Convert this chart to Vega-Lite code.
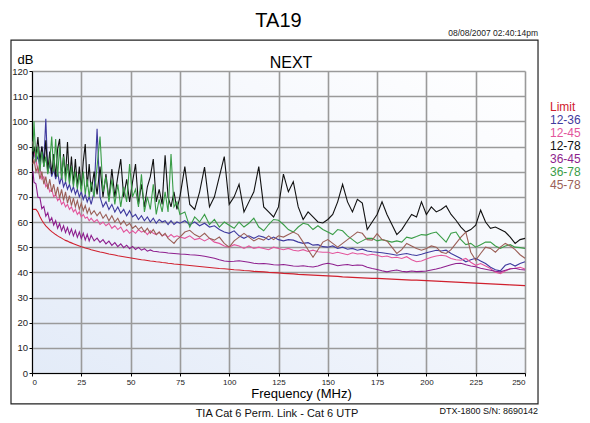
{
  "$schema": "https://vega.github.io/schema/vega-lite/v6.json",
  "width": 493,
  "height": 302,
  "autosize": {"type": "none"},
  "padding": {"left": 32, "top": 71, "right": 65, "bottom": 50},
  "background": "#ffffff",
  "title": {"text": "TA19", "fontSize": 20, "fontWeight": "normal", "color": "#000000", "anchor": "middle", "baseline": "alphabetic", "offset": 4, "dy": 22},
  "config": {
    "font": "Liberation Sans",
    "view": {"stroke": null, "fill": {"gradient": "linear", "x1": 0, "y1": 1, "x2": 1, "y2": 0, "stops": [{"offset": 0, "color": "#e3ebf8"}, {"offset": 0.55, "color": "#f3f6fc"}, {"offset": 1, "color": "#ffffff"}]}},
    "axis": {"labelColor": "#222222", "tickColor": "#000000", "domainColor": "#000000", "gridColor": "#9a9a9a", "gridWidth": 1.6, "titleFontWeight": "normal", "titleColor": "#000000"}
  },
  "resolve": {"axis": {"x": "independent", "y": "independent"}},
  "layer": [
    {
      "data": {"values": [{}]},
      "mark": {"type": "rect", "filled": false, "stroke": "#222222", "strokeWidth": 1.2},
      "encoding": {
        "x": {"datum": -10.65, "type": "quantitative", "scale": {"domain": [0, 250], "nice": false},
              "axis": {"orient": "top", "title": "NEXT", "labels": false, "ticks": false, "domain": false, "grid": false, "titleFontSize": 16, "titleX": 258.5, "titleY": -4, "titleBaseline": "alphabetic", "titleAlign": "center"}},
        "x2": {"datum": 256.6},
        "y": {"datum": 132.3, "type": "quantitative", "scale": {"domain": [0, 120], "nice": false}, "axis": null},
        "y2": {"datum": -12.3}
      }
    },
    {
      "data": {"values": [{}]},
      "mark": {"type": "text", "align": "right", "baseline": "middle", "fontSize": 8.5, "color": "#222222"},
      "encoding": {
        "x": {"datum": 256.6, "type": "quantitative", "scale": {"domain": [0, 250], "nice": false}, "axis": null},
        "y": {"datum": 135.1, "type": "quantitative", "scale": {"domain": [0, 120], "nice": false}, "axis": null},
        "text": {"value": "08/08/2007 02:40:14pm"}
      }
    },
    {
      "data": {"values": [{}]},
      "mark": {"type": "text", "align": "center", "baseline": "middle", "fontSize": 11, "color": "#111111"},
      "encoding": {
        "x": {"datum": 124.2, "type": "quantitative", "scale": {"domain": [0, 250], "nice": false}, "axis": null},
        "y": {"datum": -16.3, "type": "quantitative", "scale": {"domain": [0, 120], "nice": false}, "axis": null},
        "text": {"value": "TIA Cat 6 Perm. Link - Cat 6 UTP"}
      }
    },
    {
      "data": {"values": [{}]},
      "mark": {"type": "text", "align": "right", "baseline": "middle", "fontSize": 9, "color": "#111111"},
      "encoding": {
        "x": {"datum": 256.6, "type": "quantitative", "scale": {"domain": [0, 250], "nice": false}, "axis": null},
        "y": {"datum": -15.1, "type": "quantitative", "scale": {"domain": [0, 120], "nice": false}, "axis": null},
        "text": {"value": "DTX-1800  S/N: 8690142"}
      }
    },
    {
      "data": {"values": [
        {"f":0.5,"Limit":65,"12-36":86,"12-45":92,"12-78":85,"36-45":80.2,"36-78":88,"45-78":83},
        {"f":1,"Limit":65,"12-36":88,"12-45":88,"12-78":90,"36-45":75.8,"36-78":100,"45-78":85},
        {"f":2,"Limit":65,"12-36":84,"12-45":85,"12-78":86,"36-45":75.2,"36-78":84,"45-78":80},
        {"f":3,"Limit":64,"12-36":86,"12-45":80,"12-78":93.8,"36-45":69.8,"36-78":90,"45-78":82},
        {"f":4,"Limit":62.2,"12-36":82,"12-45":82,"12-78":84,"36-45":69.7,"36-78":80,"45-78":77},
        {"f":5,"Limit":60.7,"12-36":90,"12-45":77,"12-78":90,"36-45":65.3,"36-78":88,"45-78":80},
        {"f":6,"Limit":59.5,"12-36":84,"12-45":78,"12-78":82,"36-45":66.2,"36-78":82,"45-78":75},
        {"f":7,"Limit":58.5,"12-36":101,"12-45":74,"12-78":92.5,"36-45":62.3,"36-78":86,"45-78":78},
        {"f":8,"Limit":57.7,"12-36":80,"12-45":75,"12-78":80,"36-45":63.7,"36-78":79,"45-78":73},
        {"f":9,"Limit":56.9,"12-36":83,"12-45":72,"12-78":88,"36-45":60.3,"36-78":84,"45-78":77},
        {"f":10,"Limit":56.2,"12-36":78,"12-45":73,"12-78":79,"36-45":61.7,"36-78":94,"45-78":72},
        {"f":11,"Limit":55.6,"12-36":81,"12-45":70,"12-78":87,"36-45":58.8,"36-78":80,"45-78":75},
        {"f":12,"Limit":55.0,"12-36":77,"12-45":71,"12-78":78,"36-45":60.5,"36-78":93,"45-78":70.5},
        {"f":13,"Limit":54.5,"12-36":80,"12-45":68.5,"12-78":89,"36-45":57.5,"36-78":78,"45-78":74},
        {"f":14,"Limit":54.0,"12-36":75,"12-45":69.5,"12-78":93,"36-45":59.4,"36-78":90,"45-78":69.5},
        {"f":15,"Limit":53.6,"12-36":78,"12-45":67,"12-78":77,"36-45":56.5,"36-78":77,"45-78":73},
        {"f":16,"Limit":53.1,"12-36":74,"12-45":68,"12-78":87,"36-45":58.5,"36-78":86,"45-78":68.5},
        {"f":17,"Limit":52.7,"12-36":76,"12-45":66,"12-78":78,"36-45":55.8,"36-78":76,"45-78":72},
        {"f":18,"Limit":52.4,"12-36":73,"12-45":67,"12-78":91.8,"36-45":57.8,"36-78":83,"45-78":67.5},
        {"f":19,"Limit":52.0,"12-36":75,"12-45":65,"12-78":76,"36-45":55.1,"36-78":75,"45-78":70.5},
        {"f":20,"Limit":51.7,"12-36":72,"12-45":66,"12-78":86,"36-45":57.2,"36-78":82,"45-78":66.5},
        {"f":21,"Limit":51.4,"12-36":74,"12-45":64,"12-78":75,"36-45":54.5,"36-78":74,"45-78":69.5},
        {"f":22,"Limit":51.1,"12-36":71,"12-45":65,"12-78":85,"36-45":56.6,"36-78":80,"45-78":66},
        {"f":23,"Limit":50.8,"12-36":73,"12-45":63,"12-78":74,"36-45":53.9,"36-78":73,"45-78":68.5},
        {"f":24,"Limit":50.5,"12-36":70,"12-45":64,"12-78":82,"36-45":56.0,"36-78":79,"45-78":65},
        {"f":25,"Limit":50.2,"12-36":72,"12-45":62,"12-78":73,"36-45":53.4,"36-78":72,"45-78":67.5},
        {"f":26,"Limit":50.0,"12-36":69,"12-45":63,"12-78":84,"36-45":55.5,"36-78":80,"45-78":64.5},
        {"f":27,"Limit":49.7,"12-36":71,"12-45":61.5,"12-78":91,"36-45":52.9,"36-78":71,"45-78":66.5},
        {"f":28,"Limit":49.5,"12-36":68,"12-45":62,"12-78":74,"36-45":55.1,"36-78":77,"45-78":63.5},
        {"f":29,"Limit":49.3,"12-36":70,"12-45":60.5,"12-78":83,"36-45":52.5,"36-78":70,"45-78":65.5},
        {"f":30,"Limit":49.0,"12-36":67,"12-45":61.5,"12-78":72,"36-45":54.7,"36-78":76,"45-78":63},
        {"f":31.5,"Limit":48.7,"12-36":72,"12-45":60,"12-78":80,"36-45":52.5,"36-78":70,"45-78":64.5},
        {"f":33,"Limit":48.4,"12-36":97,"12-45":61,"12-78":71,"36-45":53.6,"36-78":82,"45-78":62.5},
        {"f":34.5,"Limit":48.1,"12-36":70,"12-45":59,"12-78":82,"36-45":51.9,"36-78":94,"45-78":64},
        {"f":36,"Limit":47.9,"12-36":66,"12-45":60,"12-78":70,"36-45":53.0,"36-78":72,"45-78":61.5},
        {"f":37.5,"Limit":47.6,"12-36":68,"12-45":58.5,"12-78":79,"36-45":51.3,"36-78":78,"45-78":63},
        {"f":39,"Limit":47.3,"12-36":65,"12-45":59.5,"12-78":69,"36-45":52.4,"36-78":68,"45-78":60.5},
        {"f":40.5,"Limit":47.1,"12-36":67,"12-45":57.5,"12-78":81,"36-45":50.7,"36-78":77,"45-78":62.5},
        {"f":42,"Limit":46.9,"12-36":64,"12-45":58.5,"12-78":70,"36-45":51.8,"36-78":67,"45-78":60},
        {"f":43.5,"Limit":46.6,"12-36":66,"12-45":57,"12-78":78,"36-45":50.2,"36-78":75,"45-78":61.5},
        {"f":45,"Limit":46.4,"12-36":63.5,"12-45":58,"12-78":85,"36-45":51.3,"36-78":66,"45-78":59},
        {"f":46.5,"Limit":46.2,"12-36":65,"12-45":56,"12-78":70,"36-45":49.8,"36-78":74,"45-78":60.5},
        {"f":48,"Limit":46.0,"12-36":62.5,"12-45":57,"12-78":77,"36-45":50.8,"36-78":68,"45-78":58.5},
        {"f":49.5,"Limit":45.8,"12-36":64.5,"12-45":55.5,"12-78":68,"36-45":49.4,"36-78":83,"45-78":59.5},
        {"f":51,"Limit":45.6,"12-36":62,"12-45":56.5,"12-78":76,"36-45":50.3,"36-78":70,"45-78":57.5},
        {"f":52.5,"Limit":45.4,"12-36":63,"12-45":55.5,"12-78":83,"36-45":49.1,"36-78":73,"45-78":58.5},
        {"f":54,"Limit":45.2,"12-36":61,"12-45":57,"12-78":67,"36-45":49.9,"36-78":66,"45-78":57},
        {"f":55.5,"Limit":45.0,"12-36":62.5,"12-45":56,"12-78":75,"36-45":48.8,"36-78":79,"45-78":58},
        {"f":57,"Limit":44.9,"12-36":60.5,"12-45":56.5,"12-78":66,"36-45":49.4,"36-78":64,"45-78":56},
        {"f":58.5,"Limit":44.7,"12-36":62,"12-45":55,"12-78":74,"36-45":48.4,"36-78":70,"45-78":57.5},
        {"f":60,"Limit":44.5,"12-36":60,"12-45":56.5,"12-78":78,"36-45":48.9,"36-78":65,"45-78":55.5},
        {"f":61.5,"Limit":44.4,"12-36":61.5,"12-45":55.5,"12-78":85,"36-45":48.4,"36-78":75,"45-78":57},
        {"f":63,"Limit":44.2,"12-36":59.5,"12-45":55,"12-78":68,"36-45":48.3,"36-78":63,"45-78":55},
        {"f":64.5,"Limit":44.1,"12-36":61,"12-45":56,"12-78":73,"36-45":48.1,"36-78":69,"45-78":56},
        {"f":66,"Limit":43.9,"12-36":60,"12-45":54.5,"12-78":67,"36-45":48.0,"36-78":64,"45-78":54.5},
        {"f":67.5,"Limit":43.8,"12-36":60.5,"12-45":55,"12-78":86.5,"36-45":47.9,"36-78":72,"45-78":55.5},
        {"f":69,"Limit":43.6,"12-36":59,"12-45":54,"12-78":70,"36-45":47.7,"36-78":64,"45-78":53.5},
        {"f":70.5,"Limit":43.5,"12-36":60.5,"12-45":55,"12-78":66,"36-45":47.6,"36-78":87,"45-78":52.5},
        {"f":72,"Limit":43.3,"12-36":59,"12-45":54,"12-78":72,"36-45":47.5,"36-78":66,"45-78":51.5},
        {"f":73.5,"Limit":43.2,"12-36":60,"12-45":54.5,"12-78":65,"36-45":47.4,"36-78":68,"45-78":53},
        {"f":75,"Limit":43.1,"12-36":59.5,"12-45":54,"12-78":70,"36-45":47.3,"36-78":63,"45-78":54},
        {"f":77.5,"Limit":42.9,"12-36":60.5,"12-45":53.5,"12-78":82,"36-45":47.2,"36-78":64,"45-78":56},
        {"f":80,"Limit":42.7,"12-36":59,"12-45":54.5,"12-78":67,"36-45":47.0,"36-78":58,"45-78":56.7},
        {"f":82.5,"Limit":42.5,"12-36":60,"12-45":53,"12-78":65,"36-45":46.9,"36-78":62,"45-78":55},
        {"f":85,"Limit":42.3,"12-36":58.5,"12-45":53.5,"12-78":72,"36-45":46.7,"36-78":60,"45-78":54},
        {"f":87.5,"Limit":42.1,"12-36":59.5,"12-45":52.5,"12-78":81.8,"36-45":46.4,"36-78":63,"45-78":55.5},
        {"f":90,"Limit":41.9,"12-36":58,"12-45":53.5,"12-78":66,"36-45":46.0,"36-78":59,"45-78":53.5},
        {"f":92.5,"Limit":41.7,"12-36":58.5,"12-45":52,"12-78":70,"36-45":45.6,"36-78":61,"45-78":52.8},
        {"f":95,"Limit":41.5,"12-36":57,"12-45":51.5,"12-78":78,"36-45":45.0,"36-78":58,"45-78":54},
        {"f":97.5,"Limit":41.4,"12-36":56,"12-45":50.5,"12-78":86,"36-45":44.5,"36-78":60,"45-78":51.5},
        {"f":100,"Limit":41.2,"12-36":55.5,"12-45":50,"12-78":67,"36-45":44.3,"36-78":58.7,"45-78":50},
        {"f":102.5,"Limit":41.0,"12-36":56.5,"12-45":51,"12-78":70,"36-45":44.4,"36-78":57.5,"45-78":52.5},
        {"f":105,"Limit":40.9,"12-36":54.5,"12-45":50.5,"12-78":75,"36-45":44.6,"36-78":60,"45-78":54},
        {"f":107.5,"Limit":40.7,"12-36":53.5,"12-45":49.5,"12-78":64,"36-45":44.3,"36-78":58,"45-78":55.5},
        {"f":110,"Limit":40.6,"12-36":54.5,"12-45":50.5,"12-78":68,"36-45":44.0,"36-78":59.5,"45-78":54},
        {"f":112.5,"Limit":40.4,"12-36":53.5,"12-45":49.5,"12-78":72,"36-45":43.6,"36-78":61.5,"45-78":52.5},
        {"f":115,"Limit":40.3,"12-36":54.5,"12-45":50,"12-78":82,"36-45":43.4,"36-78":58,"45-78":53.5},
        {"f":117.5,"Limit":40.2,"12-36":54,"12-45":49.5,"12-78":66,"36-45":43.5,"36-78":56.5,"45-78":52.8},
        {"f":120,"Limit":40.0,"12-36":53,"12-45":49,"12-78":64,"36-45":43.3,"36-78":59,"45-78":54.5},
        {"f":122.5,"Limit":39.9,"12-36":54,"12-45":50,"12-78":62,"36-45":43.0,"36-78":61,"45-78":53},
        {"f":125,"Limit":39.8,"12-36":53,"12-45":49.5,"12-78":66,"36-45":42.9,"36-78":60.7,"45-78":54.5},
        {"f":127.5,"Limit":39.6,"12-36":52.5,"12-45":49,"12-78":79,"36-45":43.1,"36-78":59,"45-78":54},
        {"f":130,"Limit":39.5,"12-36":53,"12-45":49.5,"12-78":72,"36-45":42.8,"36-78":57,"45-78":55},
        {"f":132.5,"Limit":39.4,"12-36":52.8,"12-45":48.8,"12-78":76,"36-45":42.5,"36-78":56,"45-78":56},
        {"f":135,"Limit":39.2,"12-36":52,"12-45":48.5,"12-78":66,"36-45":42.4,"36-78":58,"45-78":55},
        {"f":137.5,"Limit":39.1,"12-36":51.5,"12-45":49,"12-78":61,"36-45":42.6,"36-78":59.5,"45-78":52},
        {"f":140,"Limit":39.0,"12-36":51.8,"12-45":48.3,"12-78":64,"36-45":42.3,"36-78":59,"45-78":49},
        {"f":142.5,"Limit":38.9,"12-36":50.8,"12-45":48.8,"12-78":62,"36-45":42.1,"36-78":57,"45-78":46},
        {"f":145,"Limit":38.8,"12-36":51,"12-45":48.2,"12-78":60,"36-45":42.5,"36-78":58.5,"45-78":49},
        {"f":147.5,"Limit":38.7,"12-36":50.2,"12-45":48,"12-78":59.6,"36-45":43.2,"36-78":57,"45-78":52},
        {"f":150,"Limit":38.6,"12-36":50,"12-45":48,"12-78":61,"36-45":43.6,"36-78":56,"45-78":53},
        {"f":152.5,"Limit":38.5,"12-36":50.5,"12-45":47.5,"12-78":63,"36-45":43.2,"36-78":55,"45-78":51.5},
        {"f":155,"Limit":38.4,"12-36":49.5,"12-45":48,"12-78":68,"36-45":42.6,"36-78":57,"45-78":50},
        {"f":157.5,"Limit":38.2,"12-36":50,"12-45":47.5,"12-78":75,"36-45":42.9,"36-78":56.5,"45-78":51.5},
        {"f":160,"Limit":38.1,"12-36":49.2,"12-45":47,"12-78":68,"36-45":43.1,"36-78":54.5,"45-78":53},
        {"f":162.5,"Limit":38.0,"12-36":49.5,"12-45":47.8,"12-78":64,"36-45":42.7,"36-78":53,"45-78":54.5},
        {"f":165,"Limit":37.9,"12-36":48.8,"12-45":47.3,"12-78":69,"36-45":42.9,"36-78":51.5,"45-78":56},
        {"f":167.5,"Limit":37.8,"12-36":49.2,"12-45":47.5,"12-78":67.5,"36-45":42.8,"36-78":52.5,"45-78":55.5},
        {"f":170,"Limit":37.7,"12-36":48.5,"12-45":46.8,"12-78":57,"36-45":42.0,"36-78":53.5,"45-78":53},
        {"f":172.5,"Limit":37.6,"12-36":48.2,"12-45":47.2,"12-78":60,"36-45":41.5,"36-78":53.5,"45-78":52.8},
        {"f":175,"Limit":37.6,"12-36":48,"12-45":46.8,"12-78":63,"36-45":41.1,"36-78":52.5,"45-78":55.4},
        {"f":177.5,"Limit":37.5,"12-36":47.8,"12-45":46.2,"12-78":68,"36-45":40.6,"36-78":53,"45-78":53},
        {"f":180,"Limit":37.4,"12-36":47.5,"12-45":46.5,"12-78":63,"36-45":40.2,"36-78":52.5,"45-78":52.5},
        {"f":182.5,"Limit":37.3,"12-36":47.2,"12-45":45.8,"12-78":59,"36-45":40.6,"36-78":52,"45-78":50},
        {"f":185,"Limit":37.2,"12-36":46.8,"12-45":46,"12-78":55,"36-45":40.9,"36-78":52.5,"45-78":47.5},
        {"f":187.5,"Limit":37.1,"12-36":47.2,"12-45":45.5,"12-78":57,"36-45":40.4,"36-78":52,"45-78":49},
        {"f":190,"Limit":37.0,"12-36":47.5,"12-45":46.2,"12-78":60,"36-45":40.2,"36-78":54,"45-78":51.5},
        {"f":192.5,"Limit":36.9,"12-36":47,"12-45":45,"12-78":63,"36-45":40.5,"36-78":53.5,"45-78":50.5},
        {"f":195,"Limit":36.9,"12-36":46.7,"12-45":44.2,"12-78":62,"36-45":40.3,"36-78":54.2,"45-78":49.5},
        {"f":197.5,"Limit":36.8,"12-36":47.2,"12-45":44.5,"12-78":68,"36-45":40.4,"36-78":55,"45-78":48.8},
        {"f":200,"Limit":36.7,"12-36":47.8,"12-45":45.3,"12-78":63,"36-45":40.5,"36-78":54.8,"45-78":49.5},
        {"f":202.5,"Limit":36.6,"12-36":48.3,"12-45":46,"12-78":66,"36-45":40.9,"36-78":55.5,"45-78":50.5},
        {"f":205,"Limit":36.5,"12-36":48.8,"12-45":46.5,"12-78":64,"36-45":41.3,"36-78":56,"45-78":50},
        {"f":207.5,"Limit":36.4,"12-36":48.5,"12-45":46.8,"12-78":65,"36-45":41.8,"36-78":54,"45-78":48},
        {"f":210,"Limit":36.3,"12-36":48.8,"12-45":46.5,"12-78":66.4,"36-45":42.4,"36-78":52,"45-78":47.5},
        {"f":212.5,"Limit":36.2,"12-36":47.5,"12-45":45.5,"12-78":63,"36-45":43.0,"36-78":55.5,"45-78":49},
        {"f":215,"Limit":36.1,"12-36":46.5,"12-45":45,"12-78":60.7,"36-45":43.5,"36-78":56,"45-78":51.5},
        {"f":217.5,"Limit":36.0,"12-36":45.5,"12-45":44.8,"12-78":58,"36-45":43.6,"36-78":53,"45-78":54},
        {"f":220,"Limit":35.9,"12-36":44.2,"12-45":45.5,"12-78":56,"36-45":43.0,"36-78":51,"45-78":56},
        {"f":222.5,"Limit":35.8,"12-36":45,"12-45":44,"12-78":57,"36-45":42.5,"36-78":51.5,"45-78":48},
        {"f":225,"Limit":35.7,"12-36":45.6,"12-45":42.8,"12-78":58.7,"36-45":42.2,"36-78":50,"45-78":44.8},
        {"f":227.5,"Limit":35.6,"12-36":44.5,"12-45":43.5,"12-78":64.7,"36-45":41.6,"36-78":51,"45-78":47.5},
        {"f":230,"Limit":35.5,"12-36":43.5,"12-45":42.5,"12-78":60,"36-45":41.2,"36-78":52,"45-78":50},
        {"f":232.5,"Limit":35.4,"12-36":42,"12-45":41.5,"12-78":57.5,"36-45":40.8,"36-78":52,"45-78":49.5},
        {"f":235,"Limit":35.3,"12-36":41,"12-45":40,"12-78":58,"36-45":40.4,"36-78":50.5,"45-78":48},
        {"f":237.5,"Limit":35.2,"12-36":40.6,"12-45":39.5,"12-78":57,"36-45":40.2,"36-78":49.5,"45-78":50},
        {"f":240,"Limit":35.1,"12-36":42.8,"12-45":40.5,"12-78":56,"36-45":40.8,"36-78":50.5,"45-78":51.5},
        {"f":242.5,"Limit":35.0,"12-36":43.5,"12-45":41.5,"12-78":54,"36-45":41.3,"36-78":51,"45-78":50.5},
        {"f":245,"Limit":34.9,"12-36":42.5,"12-45":41.6,"12-78":51.5,"36-45":41.6,"36-78":50,"45-78":49},
        {"f":247.5,"Limit":34.8,"12-36":43.5,"12-45":42,"12-78":53,"36-45":41.1,"36-78":49.8,"45-78":47},
        {"f":250,"Limit":34.7,"12-36":44.2,"12-45":41.3,"12-78":53.5,"36-45":40.9,"36-78":49.5,"45-78":45.6}
      ]},
      "transform": [{"fold": ["Limit", "12-36", "12-45", "12-78", "36-45", "36-78", "45-78"], "as": ["pair", "dB"]}],
      "mark": {"type": "line", "strokeWidth": 1.1},
      "encoding": {
        "x": {"field": "f", "type": "quantitative", "scale": {"domain": [0, 250], "nice": false},
              "axis": {"orient": "bottom", "values": [0, 25, 50, 75, 100, 125, 150, 175, 200, 225, 250], "labelFontSize": 8, "tickSize": 3, "labelPadding": 2, "grid": true,
                       "title": "Frequency (MHz)", "titleFontSize": 13, "titleX": 269, "titleY": 24, "titleBaseline": "alphabetic", "titleAlign": "center"}},
        "y": {"field": "dB", "type": "quantitative", "scale": {"domain": [0, 120], "nice": false},
              "axis": {"orient": "left", "values": [0, 10, 20, 30, 40, 50, 60, 70, 80, 90, 100, 110, 120], "labelFontSize": 9.5, "tickSize": 3, "labelPadding": 1.5, "grid": true,
                       "title": "dB", "titleAngle": 0, "titleAlign": "left", "titleBaseline": "alphabetic", "titleX": -15, "titleY": -8, "titleFontSize": 13}},
        "color": {"field": "pair", "type": "nominal",
                  "scale": {"domain": ["Limit", "12-36", "12-45", "12-78", "36-45", "36-78", "45-78"], "range": ["#d0202e", "#3f3a9e", "#e3559c", "#111111", "#8e1f8e", "#3a9d47", "#9b5f57"]},
                  "legend": {"orient": "none", "legendX": 506, "legendY": 30, "title": null, "labelFontSize": 12, "symbolSize": 0, "symbolOpacity": 0, "symbolStrokeWidth": 0, "labelOffset": 0, "rowPadding": 1,
                             "encode": {"labels": {"update": {"fill": {"scale": "color", "field": "value"}}}}}}
      }
    }
  ]
}
